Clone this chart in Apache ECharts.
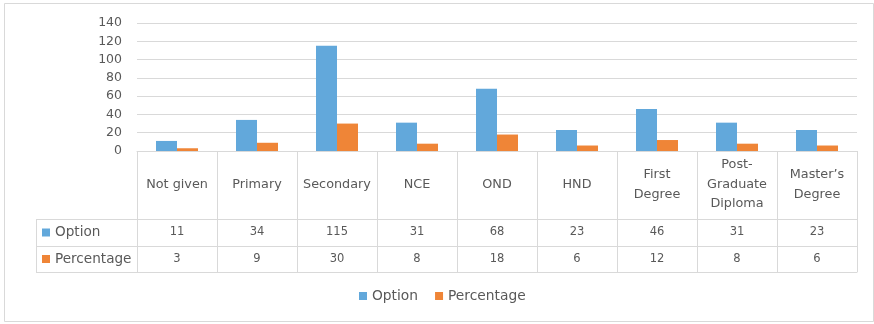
<!DOCTYPE html>
<html>
<head>
<meta charset="utf-8">
<script src="https://cdn.jsdelivr.net/npm/echarts@6/dist/echarts.min.js"></script>
<style>
  html, body { margin: 0; padding: 0; background: #ffffff; }
  #chart { width: 874px; height: 324px; }
</style>
</head>
<body>
<div id="chart"></div>
<script>
// Education level of respondents: counts and percentages
const categories = ['Not given', 'Primary', 'Secondary', 'NCE', 'OND', 'HND', 'First\nDegree', 'Post-\nGraduate\nDiploma', 'Master\u2019s\nDegree'];
const seriesNames = ['Option', 'Percentage'];
const optionValues = [11, 34, 115, 31, 68, 23, 46, 31, 23];
const percentageValues = [3, 9, 30, 8, 18, 6, 12, 8, 6];
const seriesColors = ['#62A8DB', '#EF8537'];

// layout
const W = 874, H = 324;
const gridLeft = 137, gridRight = 17, gridTop = 23, gridBottom = 173;
const headerH = 68, rowH = [27, 26];
const keyColLeft = 36;
const lineColor = '#d9d9d9';
const textColor = '#595959';
const fontFamily = 'DejaVu Sans';

const axisY = H - gridBottom;               // baseline of the plot
const rowTops = [axisY + headerH, axisY + headerH + rowH[0]];
const tableBottom = rowTops[1] + rowH[1];
const tableDepth = tableBottom - axisY;
const rowValues = [optionValues, percentageValues];

const chart = echarts.init(document.getElementById('chart'));

const xAxes = [{
  type: 'category',
  data: categories,
  position: 'bottom',
  boundaryGap: true,
  axisLine: { show: true, lineStyle: { color: lineColor } },
  axisTick: { show: true, length: tableDepth, lineStyle: { color: lineColor } },
  axisLabel: {
    interval: 0, color: textColor, fontFamily: fontFamily, fontSize: 12.8,
    verticalAlign: 'middle', margin: headerH / 2 - 0.5, lineHeight: 19.5
  }
}];
// one axis per data-table row, labelled with that row's values
rowValues.forEach((vals, r) => {
  xAxes.push({
    type: 'category',
    data: categories,
    position: 'bottom',
    offset: rowTops[r] - axisY,
    axisLine: { show: true, lineStyle: { color: lineColor } },
    axisTick: { show: false },
    axisLabel: {
      interval: 0, color: textColor, fontFamily: fontFamily, fontSize: 11.5,
      verticalAlign: 'middle', margin: rowH[r] / 2,
      formatter: (v, i) => String(vals[i])
    }
  });
});
xAxes.push({
  type: 'category',
  data: categories,
  position: 'bottom',
  offset: tableDepth,
  axisLine: { show: true, lineStyle: { color: lineColor } },
  axisTick: { show: false },
  axisLabel: { show: false }
});

// outer frame and left key column of the data table
const graphics = [];
graphics.push({
  type: 'rect', silent: true,
  shape: { x: 4.5, y: 3.5, width: W - 5, height: H - 6 },
  style: { fill: null, stroke: lineColor, lineWidth: 1 }
});
[rowTops[0], rowTops[1], tableBottom].forEach(y => {
  graphics.push({
    type: 'line', silent: true,
    shape: { x1: keyColLeft, y1: y + 0.5, x2: gridLeft, y2: y + 0.5 },
    style: { stroke: lineColor, lineWidth: 1 }
  });
});
graphics.push({
  type: 'line', silent: true,
  shape: { x1: keyColLeft + 0.5, y1: rowTops[0], x2: keyColLeft + 0.5, y2: tableBottom },
  style: { stroke: lineColor, lineWidth: 1 }
});
seriesNames.forEach((name, r) => {
  const cy = rowTops[r] + rowH[r] / 2;
  graphics.push({
    type: 'rect', silent: true,
    shape: { x: keyColLeft + 6, y: cy - 4, width: 8, height: 8 },
    style: { fill: seriesColors[r] }
  });
  graphics.push({
    type: 'text', silent: true,
    x: keyColLeft + 19, y: cy,
    style: { text: name, fill: textColor, font: '13.6px "' + fontFamily + '"', verticalAlign: 'middle', align: 'left' }
  });
});

chart.setOption({
  backgroundColor: '#ffffff',
  animation: false,
  color: seriesColors,
  textStyle: { fontFamily: fontFamily },
  grid: { left: gridLeft, right: gridRight, top: gridTop, bottom: gridBottom, containLabel: false },
  legend: {
    data: seriesNames,
    left: 359,
    top: 289,
    padding: 0,
    icon: 'rect',
    itemWidth: 8,
    itemHeight: 8,
    itemGap: 17,
    textStyle: { color: textColor, fontSize: 13.8, fontFamily: fontFamily }
  },
  xAxis: xAxes,
  yAxis: {
    type: 'value',
    min: 0, max: 140, interval: 20,
    axisLine: { show: false },
    axisTick: { show: false },
    axisLabel: { color: textColor, fontSize: 12.5, fontFamily: fontFamily, margin: 15 },
    splitLine: { lineStyle: { color: lineColor } }
  },
  series: [
    { name: seriesNames[0], type: 'bar', data: optionValues, barGap: '0%', barCategoryGap: '47.5%' },
    { name: seriesNames[1], type: 'bar', data: percentageValues, barGap: '0%', barCategoryGap: '47.5%' }
  ],
  graphic: graphics
});
</script>
</body>
</html>
